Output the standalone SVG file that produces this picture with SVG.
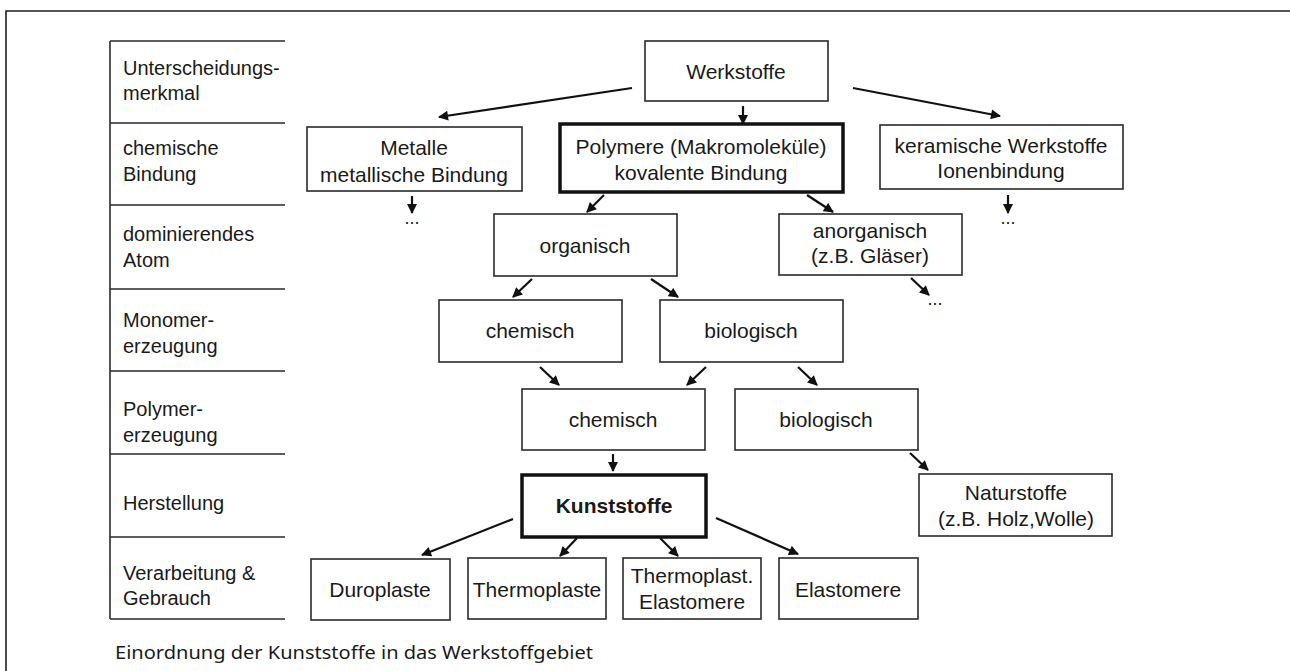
<svg xmlns="http://www.w3.org/2000/svg" width="1290" height="671" viewBox="0 0 1290 671">
<style>
.bg{fill:#fff}
.frame{fill:none;stroke:#1e1e1e;stroke-width:1.6}
.tbl{fill:none;stroke:#2a2a2a;stroke-width:1.6}
.box{fill:#fff;stroke:#2a2a2a;stroke-width:1.6}
.thick{fill:#fff;stroke:#111;stroke-width:3.5}
.lbl{font-family:"Liberation Sans",Arial,sans-serif;font-size:20px;fill:#1a1a1a}
.t{font-family:"Liberation Sans",Arial,sans-serif;font-size:21px;fill:#1a1a1a;text-anchor:middle}
.b{font-weight:bold}
.dots{font-family:"Liberation Sans",Arial,sans-serif;font-size:18px;fill:#1a1a1a;text-anchor:middle}
.cap{font-family:"Noto Sans","Open Sans",sans-serif;font-size:18px;fill:#1a1a1a}
.arr{fill:none;stroke:#111;stroke-width:2.2;marker-end:url(#ah)}
</style>
<defs>
<marker id="ah" viewBox="0 0 10 10" refX="9" refY="5" markerWidth="11" markerHeight="10" markerUnits="userSpaceOnUse" orient="auto">
<path d="M0,0 L10,5 L0,10 z" fill="#111"/>
</marker>
</defs>
<rect class="bg" x="0" y="0" width="1290" height="671"/>
<path class="frame" d="M6,671 V11 H1290"/>

<g id="criteria">
<path class="tbl" d="M110,41 V619 M110,41 H285 M110,123 H285 M110,205 H285 M110,289 H285 M110,371 H285 M110,454 H285 M110,537 H285 M110,619 H285"/>
<text class="lbl" x="123" y="75">Unterscheidungs-</text>
<text class="lbl" x="123" y="100">merkmal</text>
<text class="lbl" x="123" y="155">chemische</text>
<text class="lbl" x="123" y="181">Bindung</text>
<text class="lbl" x="123" y="241">dominierendes</text>
<text class="lbl" x="123" y="267">Atom</text>
<text class="lbl" x="123" y="327">Monomer-</text>
<text class="lbl" x="123" y="353">erzeugung</text>
<text class="lbl" x="123" y="416">Polymer-</text>
<text class="lbl" x="123" y="442">erzeugung</text>
<text class="lbl" x="123" y="510">Herstellung</text>
<text class="lbl" x="123" y="580">Verarbeitung &amp;</text>
<text class="lbl" x="123" y="605">Gebrauch</text>
</g>

<g id="connectors">
<line class="arr" x1="632" y1="88" x2="439" y2="117"/>
<line class="arr" x1="743" y1="106" x2="743" y2="124"/>
<line class="arr" x1="853" y1="88" x2="1000" y2="116"/>
<line class="arr" x1="412" y1="196" x2="412" y2="213"/>
<line class="arr" x1="1008" y1="195" x2="1008" y2="213"/>
<line class="arr" x1="604" y1="195" x2="587" y2="212"/>
<line class="arr" x1="807" y1="195" x2="833" y2="212"/>
<line class="arr" x1="911" y1="278" x2="929" y2="295"/>
<line class="arr" x1="532" y1="279" x2="513" y2="297"/>
<line class="arr" x1="651" y1="279" x2="678" y2="297"/>
<line class="arr" x1="540" y1="367" x2="559" y2="385"/>
<line class="arr" x1="706" y1="367" x2="687" y2="385"/>
<line class="arr" x1="798" y1="367" x2="817" y2="385"/>
<line class="arr" x1="613" y1="454" x2="613" y2="471"/>
<line class="arr" x1="910" y1="453" x2="928" y2="470"/>
<line class="arr" x1="513" y1="519" x2="422" y2="555"/>
<line class="arr" x1="577" y1="538" x2="560" y2="556"/>
<line class="arr" x1="660" y1="538" x2="678" y2="556"/>
<line class="arr" x1="716" y1="518" x2="798" y2="554"/>
<text class="dots" x="412" y="224">...</text>
<text class="dots" x="1008" y="224">...</text>
<text class="dots" x="935" y="305">...</text>
</g>

<g id="werkstoffe">
<rect class="box" x="645" y="41" width="183" height="60"/>
<text class="t" x="736" y="79">Werkstoffe</text>
</g>
<g id="metalle">
<rect class="box" x="307" y="127" width="215" height="64"/>
<text class="t" x="414" y="155">Metalle</text>
<text class="t" x="414" y="182">metallische Bindung</text>
</g>
<g id="polymere">
<rect class="thick" x="560" y="124" width="283" height="68"/>
<text class="t" x="701" y="154">Polymere (Makromoleküle)</text>
<text class="t" x="701" y="180">kovalente Bindung</text>
</g>
<g id="keramische">
<rect class="box" x="880" y="125" width="243" height="64"/>
<text class="t" x="1001" y="153">keramische Werkstoffe</text>
<text class="t" x="1001" y="178">Ionenbindung</text>
</g>
<g id="organisch">
<rect class="box" x="494" y="214" width="183" height="62"/>
<text class="t" x="585" y="253">organisch</text>
</g>
<g id="anorganisch">
<rect class="box" x="779" y="214" width="183" height="61"/>
<text class="t" x="870" y="238">anorganisch</text>
<text class="t" x="870" y="263">(z.B. Gläser)</text>
</g>
<g id="mono-chemisch">
<rect class="box" x="439" y="300" width="183" height="62"/>
<text class="t" x="530" y="338">chemisch</text>
</g>
<g id="mono-biologisch">
<rect class="box" x="660" y="300" width="183" height="62"/>
<text class="t" x="751" y="338">biologisch</text>
</g>
<g id="poly-chemisch">
<rect class="box" x="522" y="389" width="183" height="61"/>
<text class="t" x="613" y="427">chemisch</text>
</g>
<g id="poly-biologisch">
<rect class="box" x="735" y="389" width="183" height="61"/>
<text class="t" x="826" y="427">biologisch</text>
</g>
<g id="kunststoffe">
<rect class="thick" x="522" y="475" width="184" height="62"/>
<text class="t b" x="614" y="513">Kunststoffe</text>
</g>
<g id="naturstoffe">
<rect class="box" x="919" y="474" width="193" height="62"/>
<text class="t" x="1016" y="500">Naturstoffe</text>
<text class="t" x="1016" y="526">(z.B. Holz,Wolle)</text>
</g>
<g id="duroplaste">
<rect class="box" x="311" y="559" width="139" height="61"/>
<text class="t" x="380" y="597">Duroplaste</text>
</g>
<g id="thermoplaste">
<rect class="box" x="468" y="558" width="138" height="61"/>
<text class="t" x="537" y="597">Thermoplaste</text>
</g>
<g id="tpe">
<rect class="box" x="623" y="558" width="138" height="61"/>
<text class="t" x="692" y="583">Thermoplast.</text>
<text class="t" x="692" y="609">Elastomere</text>
</g>
<g id="elastomere">
<rect class="box" x="779" y="558" width="139" height="61"/>
<text class="t" x="848" y="597">Elastomere</text>
</g>

<text class="cap" x="115" y="659" textLength="478" lengthAdjust="spacingAndGlyphs">Einordnung der Kunststoffe in das Werkstoffgebiet</text>
</svg>
